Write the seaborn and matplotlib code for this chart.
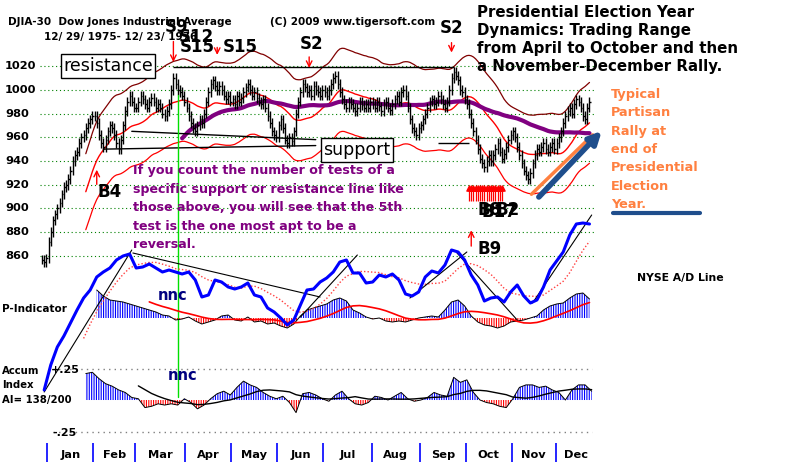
import numpy as np
import pandas as pd
import matplotlib
matplotlib.use("Agg")
import matplotlib.pyplot as plt
from matplotlib import transforms
from matplotlib.lines import Line2D
import seaborn as sns

# DJIA daily closes, 12/29/1975 - 12/23/1976
dec75 = [857, 855, 858]
jan = [872, 880, 890, 895, 900, 905, 912, 918, 920, 925, 932, 940, 945, 948, 955, 960, 962, 968, 972, 975, 978]
feb = [978, 972, 962, 955, 952, 958, 965, 970, 968, 962, 955, 950, 958, 970, 982, 990, 995, 990, 985]
mar = [985, 990, 995, 992, 988, 985, 990, 993, 990, 985, 988, 985, 980, 978, 982, 988, 1000, 1010, 1005, 1000, 998, 995, 990]
apr = [985, 978, 972, 968, 965, 970, 975, 972, 980, 990, 998, 1005, 1008, 1003, 1000, 1003, 1000, 995, 992, 995, 990]
may = [992, 988, 995, 990, 993, 998, 1002, 1005, 1000, 995, 998, 993, 990, 988, 992, 985, 978, 972, 965, 962, 960]
jun = [970, 975, 968, 958, 955, 960, 957, 965, 980, 990, 998, 1005, 1002, 998, 1000, 995, 1003, 1000, 998, 995, 1000]
jul = [998, 995, 1000, 1005, 1010, 1012, 1005, 998, 992, 988, 985, 990, 988, 985, 982, 985, 990, 987, 985, 988, 985, 990]
aug = [988, 985, 990, 986, 982, 988, 990, 985, 983, 988, 992, 995, 990, 998, 1000, 995, 985, 975, 968, 965, 962, 968]
sep = [970, 975, 980, 985, 990, 992, 988, 990, 995, 992, 988, 985, 990, 1000, 1010, 1015, 1012, 1008, 1000, 998, 992]
oct_ = [988, 980, 972, 965, 958, 950, 942, 938, 935, 940, 945, 940, 945, 950, 955, 948, 942, 946, 952, 958, 962]
nov = [965, 960, 952, 945, 938, 932, 928, 925, 930, 938, 945, 950, 948, 952, 955, 950, 948, 952, 955, 950]
dec = [955, 960, 965, 972, 978, 982, 985, 980, 988, 992, 990, 985, 978, 975, 985, 990]
month_lists = [jan, feb, mar, apr, may, jun, jul, aug, sep, oct_, nov, dec]
month_names = ["Jan", "Feb", "Mar", "Apr", "May", "Jun", "Jul", "Aug", "Sep", "Oct", "Nov", "Dec"]
price_levels = [1020, 1000, 980, 960, 940, 920, 900, 880, 860]

# NYSE A/D line, every 3rd trading day from day 1
ad_line = [10, 35, 53, 64, 77, 90, 102, 110, 123, 128, 132, 140, 144, 146, 132, 133, 136, 132,
           128, 130, 128, 126, 128, 120, 103, 105, 120, 118, 113, 111, 113, 117, 105, 103, 92, 88,
           82, 75, 80, 95, 110, 111, 118, 122, 128, 138, 140, 127, 127, 117, 118, 125, 123, 126,
           120, 106, 104, 108, 123, 129, 127, 135, 150, 148, 140, 125, 115, 99, 102, 103, 98, 108,
           115, 104, 97, 100, 113, 130, 139, 148, 165, 176, 177, 176]
# P-Indicator, every 3rd day from day 25
p_ind = [28, 22, 18, 17, 16, 14, 12, 10, 8, 6, 3, 2, -2, -1, 1, -3, -6, -4, -2, 2, 3, -2, -3, 1,
         -4, -3, -6, -5, -8, -10, -6, 2, 8, 10, 12, 14, 18, 20, 17, 8, 5, 1, -1, 0, -3, -4, -3, -4,
         -2, 0, 1, 2, 1, 8, 16, 18, 12, 2, -4, -7, -8, -10, -8, -4, -3, -2, 0, 2, 8, 12, 14, 15,
         20, 24, 25, 19]
# Accumulation Index, every 3rd day from day 20
accum = [0.21, 0.22, 0.17, 0.13, 0.11, 0.08, 0.06, 0.02, 0.01, -0.06, -0.05, -0.03, -0.04, -0.03,
         -0.04, 0.01, -0.02, -0.07, -0.04, 0.01, 0.05, 0.07, 0.04, 0.10, 0.15, 0.12, 0.10, 0.06,
         0.03, 0.01, 0.03, -0.02, -0.10, 0.05, 0.06, 0.04, 0.01, -0.01, 0.04, 0.07, 0.01, -0.03,
         -0.04, -0.02, 0.03, 0.02, 0.00, 0.03, 0.06, 0.01, -0.01, 0.00, 0.02, 0.06, 0.04, 0.03,
         0.18, 0.14, 0.16, 0.06, 0.00, -0.02, -0.03, -0.05, -0.06, 0.01, 0.10, 0.12, 0.12, 0.10,
         0.11, 0.08, 0.06, 0.00, 0.08, 0.12, 0.12, 0.07]
# trend lines drawn on the A/D line: (day, value) pairs
ad_trends = [((1, 8), (41, 150)), ((41.5, 147), (127, 103)), ((118, 83), (144, 145)),
             ((168, 102), (194, 148)), ((189.5, 147), (217, 80)), ((224, 97), (251, 185))]
buy_cluster_days = [195, 196, 197, 198, 199, 200, 201, 202, 203, 204, 205, 206, 207, 208, 209, 210]

sns.set_style("white")
plt.rcParams['font.family'] = ['DejaVu Sans']
plt.rcParams['text.color'] = 'black'
plt.rcParams['hatch.linewidth'] = 0.8

closes = pd.Series(dec75 + sum(month_lists, []), dtype=float)
days = np.arange(len(closes))
prev = closes.shift(1).fillna(closes)
hi = np.maximum(closes, prev) + 4
lo = np.minimum(closes, prev) - 4
ma21 = closes.rolling(21).mean()
ma65 = closes.rolling(65).mean()

starts = np.cumsum([len(dec75)] + [len(m) for m in month_lists])
month_start = starts[:-1]
bounds = list(month_start) + [254]

W, H = 800, 462
fig = plt.figure(figsize=(W / 100, H / 100), dpi=100)
rect = [40 / W, 0, 560 / W, 1]
xlim = (-0.91, 254.8)


def fpx(x, y):
    return x / W, 1 - y / H


ax = fig.add_axes(rect)
ax_ai = fig.add_axes(rect, sharex=ax)
ax_p = fig.add_axes(rect, sharex=ax)
ax_ad = fig.add_axes(rect, sharex=ax)
for a in (ax, ax_ai, ax_p, ax_ad):
    a.set_facecolor('none')
    a.axis('off')
ax.set_xlim(*xlim)
ax.set_ylim(686.5, 1075.6)
ax_ad.set_ylim(-62, 400)
ax_p.set_ylim(-144, 318)
ax_ai.set_ylim(-0.492, 3.175)

# price panel
ax.hlines(price_levels, -1, 252, colors='#008000', linestyles=(0, (1, 2.5)), lw=0.8)
ytr = transforms.blended_transform_factory(fig.transFigure, ax.transData)
for lv in price_levels:
    ax.text(5 / W, lv, str(lv), transform=ytr, ha='left', va='center', fontsize=8.2, fontweight='bold')
ax.plot(days, ma21 * 1.035, color='#800000', lw=0.9)
ax.plot(days, ma21 * 0.965, color='red', lw=0.9)
ax.plot(days, ma21, color='red', lw=1)
ax.plot(days, ma65, color='#800080', lw=3)
ax.vlines(days, lo, hi, color='black', lw=1)
ax.hlines(closes, days, days + 0.8, color='black', lw=1)
ax.hlines(1019, 60, 188, color='black', lw=1)
ax.plot([28, 125], [950, 953], color='black', lw=1)
ax.plot([41, 125], [965, 958], color='black', lw=1)
ax.hlines(955, 181, 195, color='black', lw=1)
ax.axvline(62, ymin=1 - 397 / H, ymax=1 - 95 / H, color='#00E000', lw=1)

# signal arrows
arrow = dict(arrowstyle='->', color='red', lw=1)
for d, y0, y1 in [(60, 1043, 1021), (80, 1038, 1027), (122, 1030, 1016), (187, 1042, 1029),
                  (25, 918, 935), (196, 866, 884)]:
    ax.annotate('', xy=(d, y1), xytext=(d, y0), arrowprops=arrow)
ax.vlines(buy_cluster_days, 906, 917, color='red', lw=0.9)
ax.scatter(buy_cluster_days, [917] * len(buy_cluster_days), marker='^', s=14, color='red', zorder=3)

# rally arrow
ax.plot([223.5, 251.5], [912, 962], color='#FF8040', lw=2.5, solid_capstyle='round', clip_on=False)
ax.annotate('', xy=(256.5, 967), xytext=(226, 908), annotation_clip=False,
            arrowprops=dict(arrowstyle='-|>', color='#1F4E8C', lw=4, mutation_scale=18))

# month axis
xtr = transforms.blended_transform_factory(ax.transData, ax.transAxes)
ax.vlines(np.array(month_start) - 0.5, 0, 19 / H, transform=xtr, color='blue', lw=1.2)
for i, name in enumerate(month_names):
    ax.text((bounds[i] + bounds[i + 1]) / 2 - 0.5, 1 - 455 / H, name, transform=xtr,
            ha='center', va='center', fontsize=8.2, fontweight='bold')

# Accum index panel
ai_days = np.arange(len(accum)) * 3 + 20
ai = np.array(accum)
ax_ai.hlines([0.25, -0.25], 5, 251, colors='#808080', linestyles=(0, (1, 3)), lw=1)
ax_ai.fill_between(ai_days, 0, ai, where=ai >= 0, interpolate=True, facecolor='none',
                   edgecolor='blue', hatch='|||||||', linewidth=0)
ax_ai.fill_between(ai_days, 0, ai, where=ai < 0, interpolate=True, facecolor='none',
                   edgecolor='red', hatch='|||||||', linewidth=0)
ax_ai.plot(ai_days, ai, color='black', lw=0.7)
ax_ai.plot(ai_days, pd.Series(ai).rolling(9).mean(), color='black', lw=1)

# P-Indicator panel
p_days = np.arange(len(p_ind)) * 3 + 25
pv = np.array(p_ind, dtype=float)
ax_p.fill_between(p_days, 0, pv, where=pv >= 0, interpolate=True, facecolor='none',
                  edgecolor='blue', hatch='|||||||', linewidth=0)
ax_p.fill_between(p_days, 0, pv, where=pv < 0, interpolate=True, facecolor='none',
                  edgecolor='red', hatch='|||||||', linewidth=0)
ax_p.plot(p_days, pv, color='black', lw=0.7)
ax_p.plot(p_days, pd.Series(pv).rolling(9).mean(), color='red', lw=1.2)

# NYSE A/D line
ad_days = np.arange(len(ad_line)) * 3 + 1
ad = pd.Series(ad_line, dtype=float)
ax_ad.plot(ad_days, ad.rolling(7).mean(), color='#FF4040', lw=1, linestyle=(0, (1, 1.5)))
for (d0, v0), (d1, v1) in ad_trends:
    ax_ad.plot([d0, d1], [v0, v1], color='black', lw=0.8)
sns.lineplot(x=ad_days, y=ad_line, ax=ax_ad, color='blue', lw=2.2)

# texts
bold = dict(fontweight='bold')
fig.text(*fpx(8, 22), "DJIA-30  Dow Jones Industrial Average", fontsize=7.5, va='center', **bold)
fig.text(*fpx(44, 37), "12/ 29/ 1975- 12/ 23/ 1976", fontsize=7.5, va='center', **bold)
fig.text(*fpx(270, 22), "(C) 2009 www.tigersoft.com", fontsize=7.5, va='center', **bold)
fig.text(*fpx(477, 5), "Presidential Election Year\nDynamics: Trading Range\nfrom April to October and then\na November-December Rally.",
         fontsize=10.8, va='top', linespacing=1.26, **bold)
fig.text(*fpx(108, 66), "resistance", fontsize=12.5, ha='center', va='center',
         bbox=dict(facecolor='white', edgecolor='black', boxstyle='square,pad=0.15'))
fig.text(*fpx(357, 150), "support", fontsize=12.5, ha='center', va='center',
         bbox=dict(facecolor='white', edgecolor='black', boxstyle='square,pad=0.15'))
fig.text(*fpx(133, 164), "If you count the number of tests of a\nspecific support or resistance line like\nthose above, you will see that the 5th\ntest is the one most apt to be a\nreversal.",
         fontsize=9.1, color='#800080', va='top', linespacing=1.56, **bold)
fig.text(*fpx(611, 88), "Typical\nPartisan\nRally at\nend of\nPresidential\nElection\nYear.",
         fontsize=9.3, color='#FF8040', va='top', linespacing=1.53, **bold)
fig.add_artist(Line2D([613 / W, 700 / W], [1 - 213 / H] * 2, color='#1F4E8C', lw=3, solid_capstyle='round'))
fig.text(*fpx(637, 278), "NYSE A/D Line", fontsize=7.8, va='center', **bold)
fig.text(*fpx(2, 309), "P-Indicator", fontsize=7.5, va='center', **bold)
fig.text(*fpx(2, 366), "Accum\nIndex\nAI= 138/200", fontsize=7.3, va='top', linespacing=1.55, **bold)
fig.text(*fpx(80, 370), "+.25", fontsize=8, ha='right', va='center', **bold)
fig.text(*fpx(77, 433), "-.25", fontsize=8, ha='right', va='center', **bold)
fig.text(*fpx(173, 295), "nnc", fontsize=10.5, color='#000080', ha='center', va='center', **bold)
fig.text(*fpx(183, 375), "nnc", fontsize=10.5, color='#000080', ha='center', va='center', **bold)
for lab, x, y in [("S9", 177, 27), ("S12", 196, 37), ("S15", 197, 47), ("S15", 240, 47),
                  ("S2", 312, 44), ("S2", 452, 28), ("B4", 110, 192), ("B9", 490, 249),
                  ("B8", 490, 210), ("B17", 499, 212), ("B2", 508, 210)]:
    fig.text(*fpx(x, y), lab, fontsize=12, ha='center', va='center', **bold)

fig.savefig("out.png", dpi=100)
